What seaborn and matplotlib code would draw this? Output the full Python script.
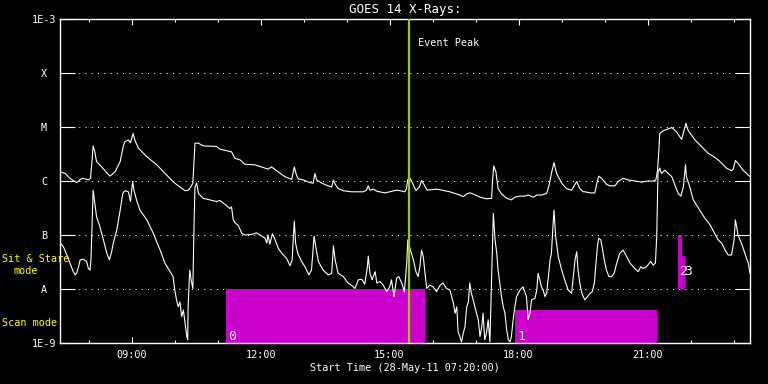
import numpy as np
import pandas as pd
import matplotlib
matplotlib.use("Agg")
import matplotlib.pyplot as plt
import seaborn as sns
from matplotlib.ticker import NullLocator, FixedLocator

# ---------------- data ----------------
START_HOUR = 7 + 20 / 60          # 28-May-11 07:20:00
SPAN_HOURS = 16.05
EVENT_PEAK = 8.11                  # hours after start (~15:27)

# long channel (1-8 A): hours after start, log10(flux W/m^2)
UP_H = [0.00, 0.12, 0.23, 0.35, 0.39, 0.47, 0.54, 0.66, 0.71, 0.74,
        0.77, 0.81, 0.85, 0.97, 1.16, 1.28, 1.40, 1.47, 1.51, 1.59,
        1.64, 1.70, 1.74, 1.82, 2.02, 2.25, 2.48, 2.67, 2.91, 2.98,
        3.02, 3.09, 3.14, 3.22, 3.33, 3.64, 3.72, 3.88, 3.99, 4.03,
        4.07, 4.19, 4.30, 4.53, 4.69, 4.84, 4.92, 5.04, 5.23, 5.39,
        5.45, 5.50, 5.54, 5.66, 5.81, 5.89, 5.93, 5.97, 6.09, 6.24,
        6.32, 6.36, 6.40, 6.47, 6.59, 6.78, 7.05, 7.13, 7.17, 7.21,
        7.29, 7.37, 7.56, 7.67, 7.83, 7.91, 8.02, 8.06, 8.09, 8.14,
        8.20, 8.28, 8.36, 8.41, 8.47, 8.54, 8.76, 8.88, 9.07, 9.30,
        9.38, 9.46, 9.53, 9.61, 9.77, 9.92, 10.04, 10.06, 10.09, 10.14,
        10.19, 10.27, 10.39, 10.50, 10.58, 10.70, 10.81, 10.89, 11.01, 11.09,
        11.20, 11.32, 11.38, 11.43, 11.49, 11.55, 11.67, 11.78, 11.90, 12.02,
        12.09, 12.17, 12.21, 12.33, 12.44, 12.48, 12.53, 12.60, 12.71, 12.79,
        12.91, 12.98, 13.10, 13.22, 13.37, 13.53, 13.68, 13.80, 13.86, 13.90,
        13.93, 13.95, 14.03, 14.23, 14.34, 14.46, 14.53, 14.56, 14.61, 14.77,
        14.92, 15.08, 15.19, 15.31, 15.39, 15.50, 15.62, 15.66, 15.71, 15.77,
        15.89, 16.05]
UP_L = [-5.83, -5.86, -5.95, -6.01, -6.03, -5.97, -5.95, -5.98, -5.95, -5.67,
        -5.35, -5.46, -5.64, -5.74, -5.91, -5.83, -5.64, -5.36, -5.27, -5.24,
        -5.29, -5.12, -5.24, -5.39, -5.55, -5.70, -5.89, -6.04, -6.18, -6.17,
        -6.14, -6.04, -5.30, -5.30, -5.35, -5.36, -5.41, -5.44, -5.46, -5.52,
        -5.58, -5.61, -5.69, -5.70, -5.74, -5.78, -5.74, -5.81, -5.92, -5.97,
        -5.74, -5.89, -5.96, -5.98, -6.03, -6.04, -5.86, -5.98, -6.04, -6.09,
        -6.11, -5.98, -6.06, -6.14, -6.18, -6.20, -6.20, -6.17, -6.09, -6.17,
        -6.15, -6.19, -6.22, -6.20, -6.17, -6.18, -6.20, -6.14, -5.97, -5.95,
        -6.04, -6.18, -6.11, -5.99, -6.07, -6.17, -6.15, -6.17, -6.20, -6.26,
        -6.29, -6.24, -6.22, -6.24, -6.30, -6.33, -6.32, -6.01, -5.72, -5.83,
        -6.14, -6.24, -6.32, -6.35, -6.30, -6.28, -6.28, -6.26, -6.30, -6.26,
        -6.26, -6.23, -6.07, -5.86, -5.66, -5.86, -6.04, -6.14, -6.17, -6.01,
        -6.14, -6.20, -6.20, -6.22, -6.22, -6.07, -5.91, -5.95, -6.06, -6.09,
        -6.09, -6.01, -5.95, -5.98, -6.00, -6.02, -6.00, -6.00, -5.98, -5.80,
        -5.43, -5.12, -5.07, -5.01, -5.09, -5.23, -5.02, -4.93, -5.06, -5.24,
        -5.36, -5.49, -5.54, -5.61, -5.67, -5.76, -5.81, -5.78, -5.62, -5.67,
        -5.80, -5.92]

# short channel (0.5-4 A)
LO_H = [0.00, 0.08, 0.16, 0.23, 0.31, 0.35, 0.39, 0.43, 0.47, 0.54,
        0.62, 0.66, 0.70, 0.72, 0.74, 0.77, 0.81, 0.85, 0.93, 1.01,
        1.09, 1.15, 1.20, 1.24, 1.32, 1.40, 1.46, 1.51, 1.59, 1.64,
        1.69, 1.72, 1.78, 1.86, 2.02, 2.17, 2.33, 2.44, 2.56, 2.63,
        2.67, 2.71, 2.75, 2.79, 2.83, 2.87, 2.91, 2.95, 2.97, 2.98,
        3.01, 3.02, 3.05, 3.09, 3.12, 3.14, 3.18, 3.22, 3.33, 3.49,
        3.64, 3.72, 3.80, 3.88, 3.95, 3.99, 4.03, 4.07, 4.15, 4.23,
        4.30, 4.46, 4.57, 4.69, 4.77, 4.81, 4.84, 4.88, 4.94, 5.00,
        5.08, 5.16, 5.27, 5.35, 5.40, 5.45, 5.48, 5.53, 5.62, 5.70,
        5.79, 5.85, 5.91, 5.95, 6.01, 6.12, 6.24, 6.32, 6.36, 6.40,
        6.47, 6.59, 6.70, 6.78, 6.86, 6.94, 7.02, 7.09, 7.15, 7.17,
        7.21, 7.26, 7.33, 7.37, 7.44, 7.52, 7.60, 7.67, 7.71, 7.77,
        7.83, 7.88, 7.95, 8.01, 8.04, 8.07, 8.09, 8.14, 8.22, 8.28,
        8.33, 8.37, 8.41, 8.45, 8.49, 8.53, 8.60, 8.68, 8.76, 8.84,
        8.91, 8.99, 9.07, 9.11, 9.15, 9.19, 9.23, 9.26, 9.30, 9.34,
        9.38, 9.42, 9.46, 9.50, 9.53, 9.57, 9.61, 9.65, 9.69, 9.73,
        9.77, 9.81, 9.84, 9.88, 9.92, 9.96, 10.00, 10.04, 10.08, 10.12,
        10.16, 10.19, 10.23, 10.27, 10.31, 10.35, 10.39, 10.43, 10.47, 10.50,
        10.54, 10.58, 10.62, 10.70, 10.77, 10.85, 10.89, 10.93, 10.97, 11.05,
        11.09, 11.12, 11.16, 11.20, 11.24, 11.28, 11.32, 11.36, 11.40, 11.43,
        11.49, 11.53, 11.59, 11.67, 11.74, 11.82, 11.90, 11.98, 12.02, 12.05,
        12.09, 12.13, 12.17, 12.21, 12.27, 12.33, 12.38, 12.43, 12.46, 12.50,
        12.53, 12.58, 12.61, 12.66, 12.71, 12.77, 12.83, 12.89, 12.95, 13.02,
        13.10, 13.18, 13.26, 13.37, 13.45, 13.51, 13.57, 13.64, 13.74, 13.80,
        13.85, 13.88, 13.90, 13.91, 13.95, 13.99, 14.07, 14.15, 14.23, 14.30,
        14.38, 14.44, 14.50, 14.55, 14.57, 14.65, 14.73, 14.88, 15.00, 15.12,
        15.23, 15.31, 15.39, 15.47, 15.54, 15.62, 15.68, 15.71, 15.74, 15.77,
        15.85, 15.93, 16.01, 16.05]
LO_L = [-7.14, -7.22, -7.37, -7.52, -7.68, -7.74, -7.70, -7.59, -7.46, -7.45,
        -7.49, -7.62, -7.65, -7.46, -6.97, -6.17, -6.41, -6.66, -6.85, -7.09,
        -7.34, -7.46, -7.31, -7.15, -6.91, -6.54, -6.23, -6.18, -6.20, -6.38,
        -6.01, -6.17, -6.35, -6.54, -6.72, -6.97, -7.28, -7.52, -7.68, -7.77,
        -8.02, -8.20, -8.33, -8.24, -8.51, -8.39, -8.64, -8.88, -8.94, -8.33,
        -7.77, -7.65, -7.83, -7.99, -6.72, -6.11, -6.04, -6.23, -6.32, -6.35,
        -6.38, -6.36, -6.41, -6.46, -6.51, -6.48, -6.72, -6.77, -6.83, -6.97,
        -7.00, -6.99, -6.96, -7.02, -7.06, -7.15, -7.00, -7.17, -6.98, -7.08,
        -7.25, -7.34, -7.43, -7.57, -7.46, -6.74, -7.15, -7.34, -7.49, -7.59,
        -7.74, -7.65, -7.02, -7.22, -7.49, -7.65, -7.74, -7.71, -7.20, -7.46,
        -7.71, -7.77, -7.89, -7.93, -7.99, -7.83, -7.82, -7.91, -7.59, -7.39,
        -7.71, -7.83, -7.68, -7.89, -7.86, -7.93, -8.05, -7.96, -7.83, -8.14,
        -7.80, -7.77, -7.89, -8.05, -7.77, -7.46, -7.09, -7.25, -7.46, -7.68,
        -7.77, -7.59, -7.28, -7.40, -7.71, -7.99, -7.93, -7.96, -8.05, -7.93,
        -7.89, -7.99, -8.02, -8.14, -8.26, -8.45, -8.33, -8.79, -8.88, -8.98,
        -8.82, -8.70, -8.33, -8.24, -7.89, -8.08, -8.20, -8.33, -8.45, -8.57,
        -8.88, -8.70, -8.45, -8.94, -8.82, -8.57, -8.98, -7.77, -6.60, -7.09,
        -7.34, -7.65, -7.89, -8.14, -8.33, -8.45, -8.76, -8.94, -8.98, -8.88,
        -8.57, -8.33, -8.14, -8.02, -7.96, -8.14, -8.57, -8.45, -8.20, -8.17,
        -8.02, -7.71, -7.83, -7.96, -8.02, -8.14, -8.08, -7.77, -7.46, -7.34,
        -6.54, -7.03, -7.40, -7.65, -7.83, -8.02, -8.08, -7.46, -7.31, -7.65,
        -7.89, -8.05, -8.14, -8.20, -8.14, -8.08, -8.05, -7.89, -7.59, -7.22,
        -7.06, -7.09, -7.22, -7.46, -7.65, -7.77, -7.77, -7.71, -7.52, -7.34,
        -7.28, -7.40, -7.52, -7.62, -7.68, -7.59, -7.62, -7.59, -7.49, -7.56,
        -7.52, -7.03, -6.29, -5.86, -5.76, -5.86, -5.80, -5.86, -5.92, -6.07,
        -6.23, -6.28, -6.11, -5.70, -5.92, -6.11, -6.35, -6.54, -6.69, -6.81,
        -6.97, -7.09, -7.15, -7.28, -7.37, -7.37, -7.09, -6.72, -6.85, -7.00,
        -7.15, -7.34, -7.52, -7.71]

# observing-mode blocks (hours after start, flux bounds)
BAR_LABELS = ["0", "1", "2", "3"]
BAR_START = [3.86, 10.58, 14.37, 14.47]
BAR_END = [8.49, 13.88, 14.47, 14.53]
BAR_LOW = [1e-9, 1e-9, 1e-8, 1e-8]
BAR_TOP = [1e-8, 4.1e-9, 1e-7, 4.1e-8]
BAR_LABEL_Y = [1.3e-9, 1.3e-9, 2.1e-8, 2.1e-8]

Y_TICKS = [1e-9, 1e-8, 1e-7, 1e-6, 1e-5, 1e-4, 1e-3]
Y_LABELS = ["1E-9", "A", "B", "C", "M", "X", "1E-3"]
X_TICKS = [9, 12, 15, 18, 21]
X_LABELS = ["09:00", "12:00", "15:00", "18:00", "21:00"]
X_MINOR = [8, 10, 11, 13, 14, 16, 17, 19, 20, 22, 23]

MAGENTA = "#cc00cc"
PEAK_COLOR = "#99cc00"
YELLOW = "#ffff00"

# ---------------- style ----------------
sns.set_theme(style="ticks", rc={
    "figure.facecolor": "black", "axes.facecolor": "black",
    "axes.edgecolor": "white", "text.color": "white",
    "axes.labelcolor": "white", "xtick.color": "white",
    "ytick.color": "white", "axes.linewidth": 1.0,
})
plt.rcParams["font.family"] = ["DejaVu Sans Mono", "DejaVu Sans"]

fig = plt.figure(figsize=(7.68, 3.84), dpi=100)
ax = fig.add_axes([60 / 768, 41 / 384, 690 / 768, 324 / 384])
ax.set_facecolor("black")

df_up = pd.DataFrame({"time": START_HOUR + np.array(UP_H), "flux": 10 ** np.array(UP_L)})
df_lo = pd.DataFrame({"time": START_HOUR + np.array(LO_H), "flux": 10 ** np.array(LO_L)})

ax.set_yscale("log")
ax.set_ylim(1e-9, 1e-3)
ax.set_xlim(START_HOUR, START_HOUR + SPAN_HOURS)

# dotted grid at flare levels
for v in Y_TICKS[1:-1]:
    ax.axhline(v, color="white", lw=0.75, ls=(0, (1, 5)), zorder=0.5)

# mode bars
bs = np.array(BAR_START); be = np.array(BAR_END)
ax.bar(START_HOUR + bs, np.array(BAR_TOP) - np.array(BAR_LOW), width=be - bs,
       bottom=BAR_LOW, align="edge", color=MAGENTA, linewidth=0, zorder=1)
for lab, s, yv in zip(BAR_LABELS, BAR_START, BAR_LABEL_Y):
    ax.annotate(lab, xy=(START_HOUR + s, yv), xytext=(1.5, 0),
                textcoords="offset points", ha="left", va="center",
                fontsize=9.5, color="white", zorder=5)

sns.lineplot(data=df_up, x="time", y="flux", ax=ax, color="white", lw=0.8,
             estimator=None, sort=False, legend=False, zorder=3)
sns.lineplot(data=df_lo, x="time", y="flux", ax=ax, color="white", lw=0.8,
             estimator=None, sort=False, legend=False, zorder=3)

ax.axvline(START_HOUR + EVENT_PEAK, color=PEAK_COLOR, lw=1.6, zorder=4)
ax.annotate("Event Peak", xy=(START_HOUR + EVENT_PEAK, 1), xycoords=("data", "axes fraction"),
            xytext=(6.5, -17.3), textcoords="offset points", ha="left", va="center",
            fontsize=7.3, color="white")

# axes / ticks
ax.set_yticks(Y_TICKS, labels=Y_LABELS)
ax.yaxis.set_minor_locator(NullLocator())
ax.tick_params(axis="y", which="major", direction="in", length=10.8, width=0.8,
               left=True, right=True, labelsize=7.3, pad=11.5)
for t in ax.get_yticklabels():
    t.set_horizontalalignment("center")
ax.set_xticks(X_TICKS, labels=X_LABELS)
ax.xaxis.set_minor_locator(FixedLocator(X_MINOR))
ax.tick_params(axis="x", which="major", direction="in", length=4.3, width=0.8,
               top=True, bottom=True, labelsize=7.3, pad=5)
ax.tick_params(axis="x", which="minor", direction="in", length=2.4, width=0.8,
               top=True, bottom=True)
ax.set_xlabel("")
ax.set_ylabel("")
for sp in ax.spines.values():
    sp.set_visible(True)
    sp.set_color("white")

fig.text(405 / 768, 1 - 10 / 384, "GOES 14 X-Rays:", ha="center", va="center",
         fontsize=9, color="white")
fig.text(405 / 768, 1 - 368 / 384, "Start Time (28-May-11 07:20:00)", ha="center",
         va="center", fontsize=7.3, color="white")
fig.text(2 / 768, 1 - 258.5 / 384, "Sit & Stare", ha="left", va="center",
         fontsize=7.3, color=YELLOW)
fig.text(13 / 768, 1 - 271 / 384, "mode", ha="left", va="center",
         fontsize=7.3, color=YELLOW)
fig.text(2 / 768, 1 - 323.5 / 384, "Scan mode", ha="left", va="center",
         fontsize=7.3, color=YELLOW)

fig.savefig("out.png", dpi=100, facecolor="black")
